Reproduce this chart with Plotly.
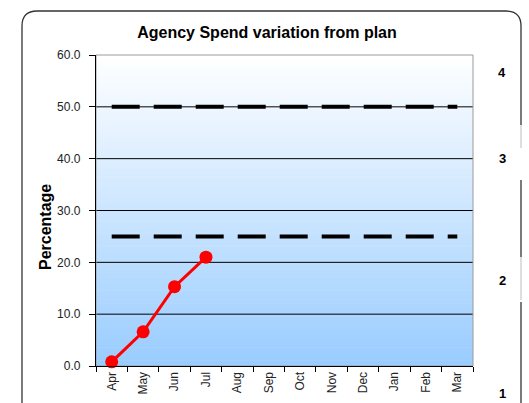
import plotly.graph_objects as go

months = ["Apr", "May", "Jun", "Jul", "Aug", "Sep", "Oct", "Nov", "Dec", "Jan", "Feb", "Mar"]
actual = [0.8, 6.6, 15.3, 21.0]
upper_threshold = [50.0] * 12
lower_threshold = [25.0] * 12
y_ticks = [0, 10, 20, 30, 40, 50, 60]
band_labels = ["4", "3", "2", "1"]

W, H = 529, 403
L, R, T, B = 96, 473, 55, 366


def px_x(p):
    return (p - L) / (R - L)


def px_y(p):
    return (B - p) / (B - T)


fig = go.Figure()
for vals in (upper_threshold, lower_threshold):
    fig.add_trace(go.Scatter(
        x=months, y=vals, mode="lines",
        line=dict(color="black", width=4, dash="28px,14px"),
        hoverinfo="skip", showlegend=False))
fig.add_trace(go.Scatter(
    x=months[:len(actual)], y=actual, mode="lines+markers",
    line=dict(color="#FF0000", width=3),
    marker=dict(color="#FF0000", size=13),
    showlegend=False, cliponaxis=False))

shapes = []
N = 120
for i in range(N):
    t = (i + 0.5) / N  # 0 bottom, 1 top
    r = round(153 + (255 - 153) * t)
    g = round(204 + (255 - 204) * t)
    b = 255
    shapes.append(dict(type="rect", xref="x domain", yref="y domain",
                       x0=0, x1=1, y0=i / N, y1=(i + 1) / N + 0.002,
                       fillcolor=f"rgb({r},{g},{b})", line=dict(width=0),
                       layer="below"))
for v in y_ticks[1:-1]:
    shapes.append(dict(type="line", xref="x domain", yref="y", x0=0, x1=1, y0=v, y1=v,
                       line=dict(color="black", width=1), layer="below"))
shapes.append(dict(type="rect", xref="x domain", yref="y domain", x0=0, x1=1, y0=0, y1=1,
                   line=dict(color="#9a9a9a", width=1), layer="below"))

# outer rounded frame
xl, xr, yt, rad = 22, 521, 11, 15
path = (f"M {px_x(xl)},{px_y(410)} L {px_x(xl)},{px_y(yt + rad)} "
        f"Q {px_x(xl)},{px_y(yt)} {px_x(xl + rad)},{px_y(yt)} "
        f"L {px_x(xr - rad)},{px_y(yt)} "
        f"Q {px_x(xr)},{px_y(yt)} {px_x(xr)},{px_y(yt + rad)} "
        f"L {px_x(xr)},{px_y(125)}")
shapes.append(dict(type="path", xref="paper", yref="paper", path=path,
                   line=dict(color="#333333", width=1.3), layer="above"))
for y0, y1, col in [(180, 257, "#333333"), (302, 410, "#333333"),
                    (125, 148, "#cccccc"), (257, 300, "#cccccc")]:
    shapes.append(dict(type="line", xref="paper", yref="paper",
                       x0=px_x(xr), x1=px_x(xr), y0=px_y(y0), y1=px_y(y1),
                       line=dict(color=col, width=1.3), layer="above"))

annotations = [dict(text="<b>Percentage</b>", xref="paper", yref="paper",
                    x=px_x(45), y=px_y(227), xanchor="center", yanchor="middle",
                    textangle=-90, showarrow=False,
                    font=dict(size=16, color="black", family="Arial, Liberation Sans"))]
for lab, py in zip(band_labels, [72, 158, 280, 393]):
    annotations.append(dict(text=f"<b>{lab}</b>", xref="paper", yref="paper",
                            x=px_x(502), y=px_y(py), xanchor="center", yanchor="middle",
                            showarrow=False,
                            font=dict(size=13, color="black", family="Arial, Liberation Sans")))

fig.update_layout(
    width=W, height=H,
    margin=dict(l=L, r=W - R, t=T, b=H - B),
    paper_bgcolor="white", plot_bgcolor="rgba(0,0,0,0)",
    font=dict(family="Arial, Liberation Sans", color="#222"),
    title=dict(text="<b>Agency Spend variation from plan</b>", x=267 / W, xanchor="center",
               y=1 - 32 / H, yanchor="middle",
               font=dict(size=16, color="black", family="Arial, Liberation Sans")),
    shapes=shapes, annotations=annotations,
    xaxis=dict(type="category", categoryorder="array", categoryarray=months,
               range=[-0.5, 11.5], showgrid=False, zeroline=False, automargin=False,
               showline=True, linecolor="black", linewidth=1.3,
               ticks="outside", tickson="boundaries", ticklen=5, tickcolor="black",
               tickangle=-90, tickfont=dict(size=12, color="#222")),
    yaxis=dict(range=[0, 60], tickvals=y_ticks, tickformat=".1f", showgrid=False,
               zeroline=False, automargin=False, showline=True, linecolor="black", linewidth=1.3,
               ticks="outside", ticklen=6, tickcolor="black",
               ticklabelstandoff=6, tickfont=dict(size=12, color="#222")),
)

fig.write_html("out.html", config={"displayModeBar": False},
               post_script="document.body.style.margin='0';document.body.style.overflow='hidden';")
